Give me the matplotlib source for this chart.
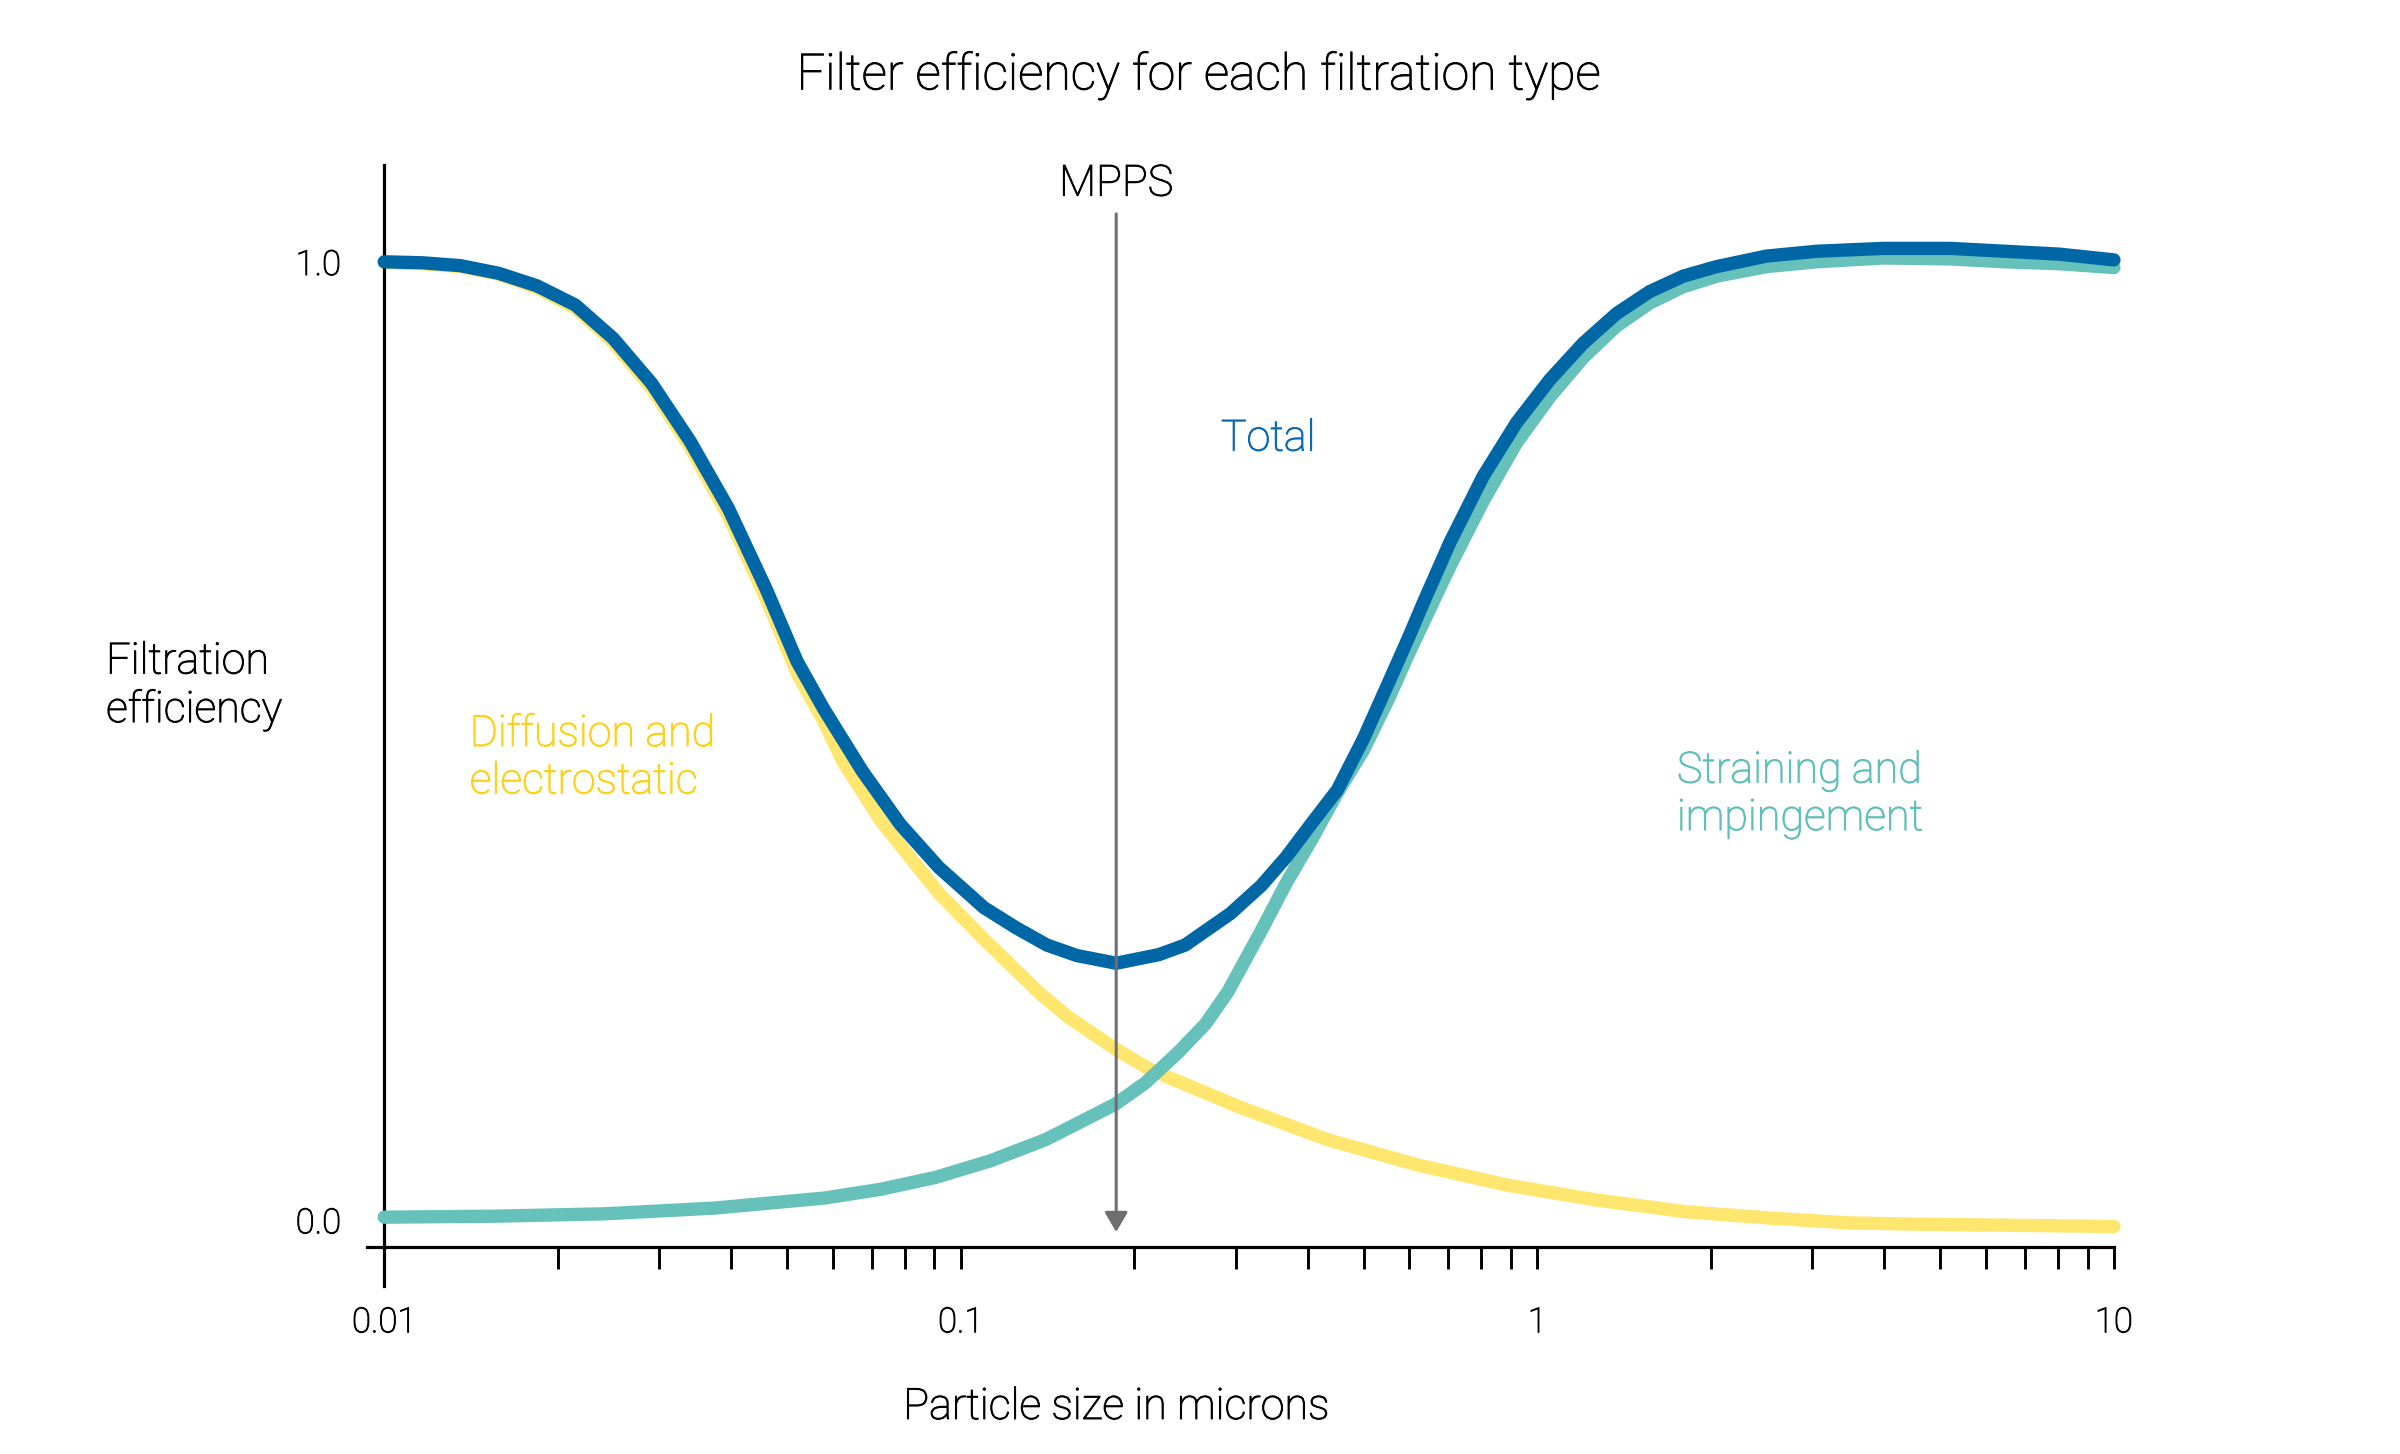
import numpy as np
import matplotlib
matplotlib.use("Agg")
import matplotlib.pyplot as plt
import matplotlib.patheffects as pe
from matplotlib.ticker import LogLocator, FixedLocator, NullFormatter

plt.rcParams['font.family'] = ['Roboto', 'DejaVu Sans']
plt.rcParams['font.weight'] = 'light'

# particle size (microns) and efficiency
total_x = [0.01, 0.01164, 0.01355, 0.01579, 0.01839, 0.02144, 0.02496, 0.0291,
           0.0339, 0.0395, 0.046, 0.052, 0.0579, 0.0674, 0.0785, 0.0916, 0.1097,
           0.1247, 0.141, 0.159, 0.186, 0.2206, 0.245, 0.2937, 0.332, 0.367,
           0.406, 0.45, 0.499, 0.553, 0.597, 0.635, 0.705, 0.805, 0.92, 1.051,
           1.201, 1.372, 1.567, 1.79, 2.046, 2.498, 3.05, 3.98, 5.2, 6.48, 8.04,
           10.0]
total_y = [1.000, 0.999, 0.996, 0.988, 0.975, 0.955, 0.920, 0.873,
           0.813, 0.743, 0.658, 0.583, 0.533, 0.469, 0.413, 0.368, 0.326,
           0.305, 0.287, 0.276, 0.268, 0.277, 0.287, 0.320, 0.349, 0.379,
           0.414, 0.449, 0.502, 0.562, 0.607, 0.645, 0.707, 0.776, 0.832, 0.877,
           0.915, 0.946, 0.969, 0.985, 0.995, 1.006, 1.011, 1.014, 1.014, 1.011, 1.008,
           1.002]

diff_x = [0.01, 0.01164, 0.01355, 0.01579, 0.01839, 0.02144, 0.02496, 0.0291,
          0.0339, 0.0395, 0.046, 0.052, 0.0579, 0.0625, 0.0728, 0.0916, 0.1097,
          0.1374, 0.1535, 0.186, 0.213, 0.304, 0.4345, 0.62, 0.886, 1.265,
          1.807, 2.582, 3.48, 4.77, 7.41, 10.0]
diff_y = [0.999, 0.998, 0.995, 0.987, 0.973, 0.952, 0.916, 0.868,
          0.807, 0.735, 0.648, 0.571, 0.520, 0.478, 0.416, 0.341, 0.293,
          0.236, 0.212, 0.178, 0.157, 0.118, 0.0835, 0.0574, 0.0365, 0.0209,
          0.0087, 0.0017, -0.003, -0.0045, -0.0058, -0.0067]

strain_x = [0.01, 0.0155, 0.0241, 0.0374, 0.0581, 0.0725, 0.0904, 0.1128,
            0.1404, 0.1603, 0.1854, 0.2088, 0.2383, 0.266, 0.2904, 0.332, 0.367,
            0.406, 0.45, 0.499, 0.553, 0.597, 0.705, 0.805, 0.92, 1.051, 1.201,
            1.372, 1.567, 1.79, 2.046, 2.498, 3.05, 3.98, 5.2, 6.48, 8.04, 10.0]
strain_y = [0.003, 0.004, 0.0065, 0.0125, 0.023, 0.032, 0.0445, 0.062,
            0.084, 0.1016, 0.121, 0.143, 0.175, 0.205, 0.238, 0.302, 0.352,
            0.397, 0.446, 0.490, 0.545, 0.590, 0.682, 0.750, 0.811, 0.859, 0.900,
            0.933, 0.957, 0.974, 0.985, 0.995, 1.000, 1.004, 1.003, 1.000, 0.998, 0.994]

mpps = 0.186

c_total = '#0067a6'
c_diff = '#ffe66e'
c_strain = '#66c1bb'


def darken(txt, color):
    # thin outline in the text colour, roboto light renders too pale otherwise
    txt.set_path_effects([pe.withStroke(linewidth=0.7, foreground=color)])


fig = plt.figure(figsize=(24, 14.54), dpi=100)
ax = fig.add_axes([0.1529, 0.1155, 0.7279, 0.771])

lw = 9.6
ax.plot(diff_x, diff_y, color=c_diff, lw=lw, solid_capstyle='round',
        solid_joinstyle='round', clip_on=False, zorder=2)
ax.plot(strain_x, strain_y, color=c_strain, lw=lw, solid_capstyle='round',
        solid_joinstyle='round', clip_on=False, zorder=3)
ax.plot(total_x, total_y, color=c_total, lw=lw, solid_capstyle='round',
        solid_joinstyle='round', clip_on=False, zorder=4)

ax.set_xscale('log')
ax.set_xlim(10 ** -2.030, 10)
ax.set_ylim(-0.0689, 1.101)

# spines
for s in ['top', 'right']:
    ax.spines[s].set_visible(False)
ax.spines['left'].set_position(('data', 0.01))
ax.spines['bottom'].set_position(('data', -0.0282))
ax.spines['left'].set_linewidth(2.3)
ax.spines['bottom'].set_linewidth(2.3)

ax.xaxis.set_major_locator(FixedLocator([0.01, 0.1, 1, 10]))
ax.set_xticklabels(['0.01', '0.1', '1', '10'])
ax.xaxis.set_minor_locator(LogLocator(base=10, subs=np.arange(2, 10)))
ax.xaxis.set_minor_formatter(NullFormatter())
ax.tick_params(axis='x', which='both', direction='out', length=15.8, width=2.1,
               color='black')
ax.tick_params(axis='x', which='major', pad=26.5, labelsize=25)

ax.set_yticks([0.0, 1.0])
ax.set_yticklabels(['0.0', '1.0'])
ax.tick_params(axis='y', length=0, pad=31, labelsize=25)

for lab in ax.get_xticklabels() + ax.get_yticklabels():
    darken(lab, 'black')

# MPPS arrow
ax.annotate('', xy=(mpps, -0.0125), xytext=(mpps, 1.050),
            arrowprops=dict(arrowstyle='-|>,head_length=0.6,head_width=0.35',
                            mutation_scale=20, color='#6e6e70', lw=2.2,
                            shrinkA=0, shrinkB=0), zorder=5)
t = ax.text(mpps, 1.081, 'MPPS', ha='center', va='center', fontsize=31,
            color='black')
darken(t, 'black')

t = ax.text(0.2825, 0.815, 'Total', ha='left', va='center', fontsize=31,
            color='#0a6aad')
darken(t, '#0a6aad')
t = ax.text(0.01407, 0.482, 'Diffusion and\nelectrostatic', ha='left',
            va='center', fontsize=31, color='#fcd116', linespacing=1.2)
darken(t, '#fcd116')
t = ax.text(1.746, 0.444, 'Straining and\nimpingement', ha='left', va='center',
            fontsize=31, color='#5fbfb8', linespacing=1.2)
darken(t, '#5fbfb8')

t = fig.text(0.0442, 0.528, 'Filtration\nefficiency', ha='left', va='center',
             fontsize=31, color='black', linespacing=1.2)
darken(t, 'black')
t = fig.text(0.465, 0.032, 'Particle size in microns', ha='center',
             va='center', fontsize=31, color='black')
darken(t, 'black')
t = fig.text(0.4996, 0.948, 'Filter efficiency for each filtration type',
             ha='center', va='center', fontsize=36, color='black')
darken(t, 'black')

fig.savefig('out.png', dpi=100, facecolor='white')
